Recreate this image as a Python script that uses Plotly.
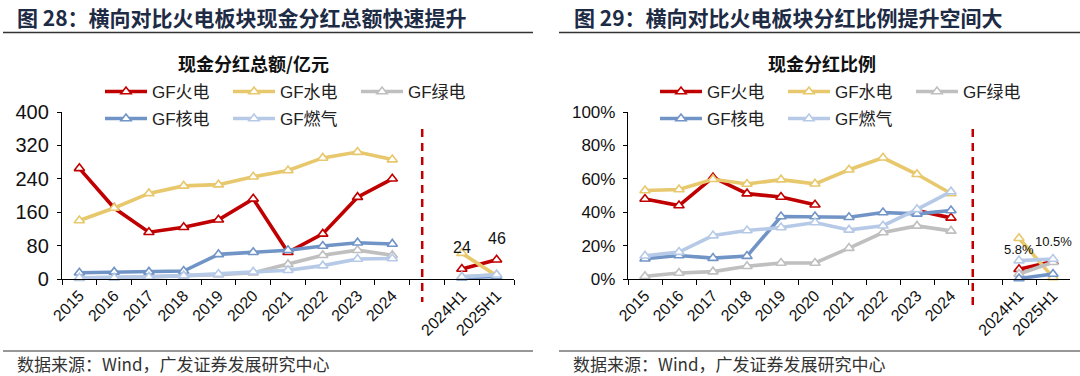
import plotly.graph_objects as go

W, H = 1080, 376

categories = ["2015", "2016", "2017", "2018", "2019", "2020", "2021", "2022", "2023", "2024", " ", "2024H1", "2025H1"]

# Left chart: cash dividend totals (亿元)
amt_thermal = [265, 170, 112, 124, 142, 192, 64, 108, 196, 240, None, 24, 46]
amt_hydro = [140, 170, 205, 223, 226, 245, 260, 290, 304, 286, None, 62, 8]
amt_green = [2, 3, 5, 8, 10, 15, 35, 57, 69, 57, None, 5, 10]
amt_nuclear = [15, 17, 17, 19, 59, 64, 69, 79, 87, 84, None, 3, 6]
amt_gas = [3, 3, 5, 8, 12, 17, 21, 32, 48, 49, None, 5, 10]

# Right chart: dividend payout ratio (%)
pct_thermal = [47.9, 44.0, 60.8, 51.1, 49.1, 44.5, None, None, 41.0, 36.6, None, 5.8, 10.5]
pct_hydro = [53.0, 53.6, 59.7, 56.9, 59.5, 57.0, 65.4, 72.6, 62.7, 51.2, None, 24.4, 1.0]
pct_green = [1.6, 3.6, 4.4, 7.6, 9.6, 9.6, 18.5, 27.8, 31.8, 28.8, None, 3.0, 10.0]
pct_nuclear = [12.1, 14.1, 12.5, 13.7, 37.4, 37.4, 37.0, 39.8, 39.0, 41.0, None, 0.3, 3.0]
pct_gas = [13.9, 16.1, 26.0, 29.0, 30.8, 33.8, 29.4, 31.9, 41.7, 52.3, None, 11.0, 12.0]

series_names = ["GF火电", "GF水电", "GF绿电", "GF核电", "GF燃气"]
colors = ["#C00000", "#E8C86C", "#BFBFBF", "#7194C7", "#B6CAE7"]

left_title = "图 28：横向对比火电板块现金分红总额快速提升"
right_title = "图 29：横向对比火电板块分红比例提升空间大"
left_sub = "现金分红总额/亿元"
right_sub = "现金分红比例"
source = "数据来源：Wind，广发证券发展研究中心"

LAT = "Liberation Sans, Arial, Noto Sans CJK SC, sans-serif"
CJK = "Noto Sans CJK SC, sans-serif"

fig = go.Figure()

left_data = [amt_thermal, amt_hydro, amt_green, amt_nuclear, amt_gas]
right_data = [pct_thermal, pct_hydro, pct_green, pct_nuclear, pct_gas]
left_leg = ["legend", "legend", "legend", "legend2", "legend2"]
right_leg = ["legend3", "legend3", "legend3", "legend4", "legend4"]

for i in range(5):
    fig.add_trace(go.Scatter(
        x=categories, y=left_data[i], name=series_names[i], mode="lines+markers",
        line=dict(color=colors[i], width=3.6),
        marker=dict(symbol="triangle-up", size=9, color="white", line=dict(color=colors[i], width=1.6)),
        xaxis="x", yaxis="y", legend=left_leg[i], cliponaxis=False, connectgaps=False,
    ))
for i in range(5):
    fig.add_trace(go.Scatter(
        x=categories, y=right_data[i], name=series_names[i], mode="lines+markers",
        line=dict(color=colors[i], width=3.6),
        marker=dict(symbol="triangle-up", size=9, color="white", line=dict(color=colors[i], width=1.6)),
        xaxis="x2", yaxis="y2", legend=right_leg[i], cliponaxis=False, connectgaps=False,
    ))

annotations = []
for c, v in zip(categories, amt_thermal):
    if v is not None:
        annotations.append(dict(x=c, y=v, xref="x", yref="y", text=str(v), showarrow=False,
                                yshift=21, font=dict(family=LAT, size=16, color="#111")))
for c, v in zip(categories, pct_thermal):
    if v is not None:
        annotations.append(dict(x=c, y=v, xref="x2", yref="y2", text=f"{v:.1f}%", showarrow=False,
                                yshift=20, font=dict(family=LAT, size=13, color="#111")))

def px(xp):
    return xp / W

def py(yp):
    return 1 - yp / H

annotations += [
    dict(x=px(15), y=py(17), xref="paper", yref="paper", xanchor="left", yanchor="middle", showarrow=False,
         text="<b>" + left_title + "</b>", font=dict(family=CJK, size=21, color="#1E2B45")),
    dict(x=px(572), y=py(17), xref="paper", yref="paper", xanchor="left", yanchor="middle", showarrow=False,
         text="<b>" + right_title + "</b>", font=dict(family=CJK, size=21, color="#1E2B45")),
    dict(x=px(253), y=py(63), xref="paper", yref="paper", xanchor="center", yanchor="middle", showarrow=False,
         text="<b>" + left_sub + "</b>", font=dict(family=CJK, size=18, color="#111")),
    dict(x=px(822), y=py(63), xref="paper", yref="paper", xanchor="center", yanchor="middle", showarrow=False,
         text="<b>" + right_sub + "</b>", font=dict(family=CJK, size=18, color="#111")),
    dict(x=px(15), y=py(363), xref="paper", yref="paper", xanchor="left", yanchor="middle", showarrow=False,
         text=source, font=dict(family=CJK, size=17, color="#333")),
    dict(x=px(571), y=py(363), xref="paper", yref="paper", xanchor="left", yanchor="middle", showarrow=False,
         text=source, font=dict(family=CJK, size=17, color="#333")),
]

shapes = [
    dict(type="line", xref="paper", yref="paper", x0=px(3), x1=px(533), y0=py(32.5), y1=py(32.5),
         line=dict(color="#333", width=1.5)),
    dict(type="line", xref="paper", yref="paper", x0=px(559), x1=px(1080), y0=py(32.5), y1=py(32.5),
         line=dict(color="#333", width=1.5)),
    dict(type="line", xref="paper", yref="paper", x0=px(3), x1=px(533), y0=py(351), y1=py(351),
         line=dict(color="#333", width=1.2)),
    dict(type="line", xref="paper", yref="paper", x0=px(559), x1=px(1080), y0=py(351), y1=py(351),
         line=dict(color="#333", width=1.2)),
    dict(type="line", xref="x", yref="paper", x0=9.86, x1=9.86, y0=py(129), y1=py(302),
         line=dict(color="#C00000", width=2.5, dash="8px,6px")),
    dict(type="line", xref="x2", yref="paper", x0=9.64, x1=9.64, y0=py(129), y1=py(306),
         line=dict(color="#C00000", width=2.5, dash="8px,6px")),
]

def xax(dom, anchor):
    return dict(domain=dom, anchor=anchor, type="category", categoryorder="array", categoryarray=categories,
                range=[-0.5, 12.5], tickson="boundaries", ticks="outside", ticklen=5, tickcolor="black",
                tickwidth=1.2, showline=True, linecolor="black", linewidth=1.3, tickangle=-45,
                tickfont=dict(family=LAT, size=16, color="#111"), showgrid=False, zeroline=False,
                automargin=False, fixedrange=True)

def yax(anchor, rng, vals, texts, fs):
    return dict(domain=[py(279), py(112)], anchor=anchor, range=rng, tickvals=vals, ticktext=texts,
                ticks="outside", ticklen=4, tickcolor="black", tickwidth=1.2, showline=True,
                linecolor="black", linewidth=1.3, showgrid=False, zeroline=False,
                tickfont=dict(family=LAT, size=fs, color="#111"), automargin=False, fixedrange=True,
                ticklabelstandoff=4)

left_ticks = [0, 80, 160, 240, 320, 400]
right_ticks = [0, 20, 40, 60, 80, 100]

def leg(x, y):
    return dict(orientation="h", x=px(x), y=py(y), xanchor="left", yanchor="middle",
                entrywidth=71, entrywidthmode="pixels", itemwidth=42,
                font=dict(family=LAT, size=17, color="#222"),
                bgcolor="rgba(0,0,0,0)", tracegroupgap=0, itemclick=False, itemdoubleclick=False)

fig.update_layout(
    width=W, height=H, margin=dict(l=0, r=0, t=0, b=0, autoexpand=False),
    paper_bgcolor="white", plot_bgcolor="white",
    xaxis=xax([px(62), px(514)], "y"),
    yaxis=yax("x", [0, 400], left_ticks, [str(t) for t in left_ticks], 20),
    xaxis2=xax([px(628), px(1070)], "y2"),
    yaxis2=yax("x2", [0, 100], right_ticks, [f"{t}%" for t in right_ticks], 17),
    legend=leg(100, 92), legend2=leg(100, 119),
    legend3=leg(655, 92), legend4=leg(655, 119),
    annotations=annotations, shapes=shapes,
)

fig.write_html("out.html", config={"displayModeBar": False},
               post_script="document.body.style.margin='0';document.body.style.overflow='hidden';")
